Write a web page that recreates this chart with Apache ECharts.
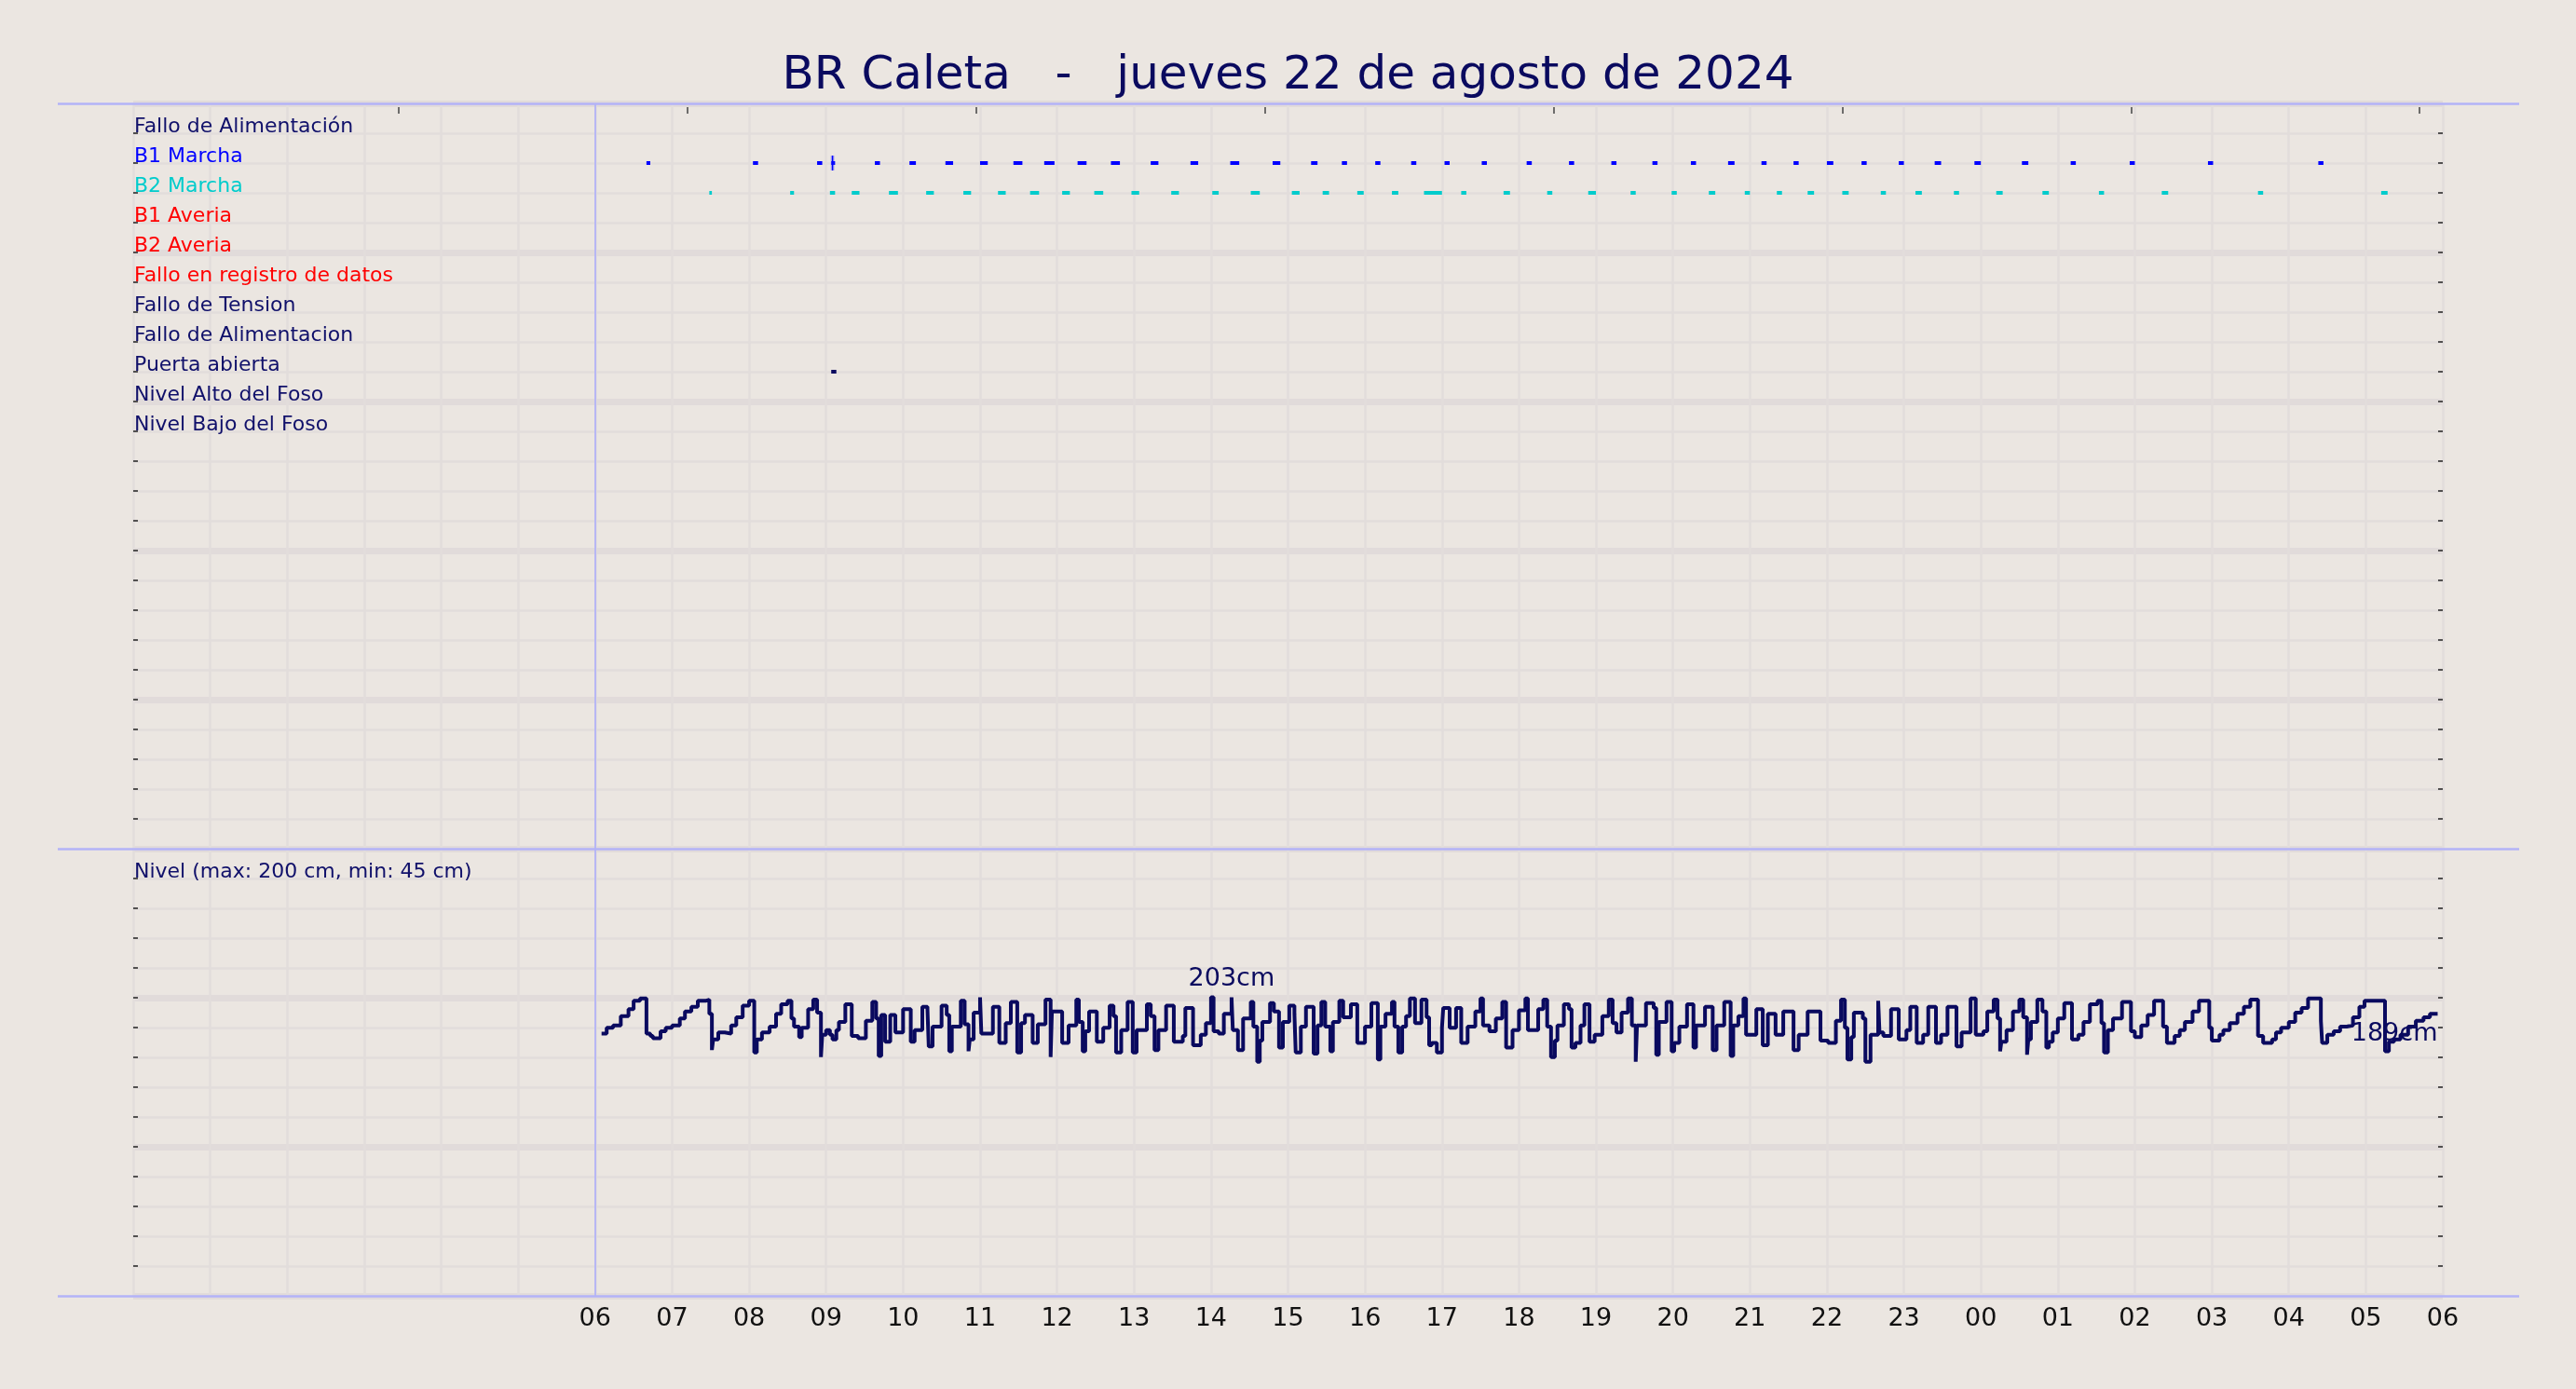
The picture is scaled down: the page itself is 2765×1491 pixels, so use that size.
<!DOCTYPE html>
<html><head><meta charset="utf-8">
<script src="https://cdn.jsdelivr.net/npm/echarts@6/dist/echarts.min.js"></script>
<style>html,body{margin:0;padding:0;background:#ebe6e1;}#c{width:2765px;height:1491px;}</style>
</head><body><div id="c"></div>
<script>
const titleText = 'BR Caleta   -   jueves 22 de agosto de 2024';

// row labels (row index on the 0..40 strip axis)
const labelRows = [1, 2, 3, 4, 5, 6, 7, 8, 9, 10, 11, 26];
const labelTexts = ['Fallo de Alimentación', 'B1 Marcha', 'B2 Marcha', 'B1 Averia', 'B2 Averia',
  'Fallo en registro de datos', 'Fallo de Tension', 'Fallo de Alimentacion', 'Puerta abierta',
  'Nivel Alto del Foso', 'Nivel Bajo del Foso', 'Nivel (max: 200 cm, min: 45 cm)'];
const labelColors = ['#10106a', '#0000ff', '#00cccc', '#ff0000', '#ff0000', '#ff0000',
  '#10106a', '#10106a', '#10106a', '#10106a', '#10106a', '#10106a'];
const tickRows = [1,2,3,4,5,6,7,8,9,10,11,12,13,14,15,16,17,18,19,20,21,22,23,24,
  26,27,28,29,30,31,32,33,34,35,36,37,38,39];

// x tick labels for hour values 6..30
const xTickLabels = ['06','07','08','09','10','11','12','13','14','15','16','17','18','19',
  '20','21','22','23','00','01','02','03','04','05','06'];
const topTicks = [3.45, 7.2, 10.95, 14.7, 18.45, 22.2, 25.95, 29.7];
const startHour = 6;

const b1Start = ['06:40','08:03','08:53','09:04','09:38','10:05','10:33','11:00','11:26','11:50','12:16','12:42','13:13','13:44','14:15','14:48','15:18','15:42','16:08','16:36','17:02','17:31','18:06','18:39','19:12','19:44','20:14','20:43','21:09','21:34','22:00','22:27','22:56','23:24','23:55','00:32','01:10','01:56','02:57','04:23'];
const b1End   = ['06:43','08:07','08:57','09:07','09:42','10:10','10:39','11:06','11:33','11:58','12:23','12:49','13:19','13:50','14:22','14:54','15:23','15:46','16:12','16:40','17:06','17:35','18:10','18:43','19:16','19:48','20:18','20:48','21:13','21:38','22:05','22:31','23:00','23:29','00:00','00:37','01:14','02:00','03:01','04:27'];
const b1Ticks = ['09:05'];

const b2Start = ['07:29','08:32','09:03','09:20','09:49','10:18','10:47','11:14','11:39','12:04','12:29','12:58','13:29','14:01','14:31','15:03','15:27','15:54','16:21','16:46','17:15','17:48','18:22','18:54','19:27','19:59','20:28','20:56','21:21','21:45','22:12','22:42','23:09','23:39','00:12','00:48','01:32','02:21','03:36','05:12'];
const b2End   = ['07:31','08:35','09:07','09:26','09:56','10:24','10:53','11:20','11:46','12:10','12:36','13:04','13:35','14:06','14:38','15:09','15:32','15:59','16:26','17:00','17:19','17:53','18:26','19:00','19:31','20:03','20:33','21:00','21:25','21:50','22:17','22:46','23:14','23:43','00:17','00:53','01:36','02:26','03:40','05:17'];

const puertaStart = ['09:04'];
const puertaEnd = ['09:08'];

const levelTimes = ['06:05','06:09','06:14','06:20','06:26','06:30','06:35','06:40','06:43','06:45','06:51','06:55','07:00','07:06','07:10','07:15','07:20','07:26','07:29','07:31','07:32','07:36','07:41','07:46','07:50','07:55','08:00','08:04','08:06','08:10','08:16','08:21','08:25','08:30','08:33','08:35','08:39','08:41','08:46','08:50','08:53','08:56','08:57','09:00','09:03','09:05','09:08','09:10','09:15','09:20','09:25','09:31','09:36','09:39','09:41','09:43','09:46','09:50','09:54','10:00','10:06','10:09','10:15','10:19','10:20','10:23','10:30','10:34','10:36','10:38','10:45','10:48','10:51','10:52','10:55','11:00','11:01','11:10','11:15','11:20','11:24','11:29','11:32','11:35','11:41','11:45','11:51','11:55','11:56',
'12:04','12:09','12:15','12:17','12:20','12:22','12:25','12:31','12:36','12:41','12:44','12:46','12:50','12:55','12:59','13:02','13:10','13:13','13:16','13:19','13:25','13:31','13:38','13:40','13:46','13:52','13:56','14:00','14:02','14:06','14:10','14:16','14:17','14:21','14:25','14:31','14:33','14:36','14:38','14:40','14:46','14:49','14:53','14:56','15:01','15:05','15:06','15:10','15:14','15:20','15:23','15:26','15:29','15:33','15:35','15:40','15:43','15:49','15:54','16:00','16:05','16:10','16:12','16:16','16:21','16:23','16:26','16:29','16:32','16:35','16:39','16:44','16:48','16:50','16:52','16:56','17:00','17:01','17:06','17:11','17:15','17:20','17:26','17:30','17:32','17:37','17:42','17:47','17:50',
'17:55','18:00','18:05','18:07','18:15','18:19','18:22','18:25','18:28','18:30','18:35','18:39','18:41','18:44','18:48','18:51','18:55','18:59','19:05','19:10','19:13','19:16','19:20','19:25','19:28','19:31','19:32','19:39','19:45','19:47','19:49','19:55','19:59','20:01','20:05','20:11','20:16','20:18','20:25','20:31','20:34','20:40','20:45','20:47','20:51','20:55','20:57','21:05','21:10','21:14','21:20','21:26','21:34','21:38','21:45','21:55','22:01','22:07','22:11','22:14','22:16','22:19','22:21','22:28','22:30','22:34','22:40','22:41','22:44','22:50','22:56','23:02','23:05','23:10','23:15','23:19','23:25','23:29','23:34','23:41','23:45','23:52',
'23:56','00:02','00:05','00:10','00:13','00:15','00:16','00:20','00:25','00:30','00:33','00:36','00:37','00:39','00:44','00:48','00:51','00:53','00:56','01:00','01:05','01:11','01:16','01:20','01:25','01:31','01:34','01:36','01:39','01:43','01:50','01:57','02:00','02:05','02:10','02:15','02:22','02:25','02:31','02:35','02:39','02:45','02:50','02:58','03:00','03:06','03:09','03:14','03:20','03:25','03:30','03:36','03:40','03:47','03:50','03:54','04:00','04:05','04:10','04:15','04:25','04:26','04:30','04:35','04:40','04:45','04:50','04:55','04:59','05:15','05:18','05:22','05:27','05:33','05:39','05:45','05:50','05:56'];
const levelValues = [172,177,179,187,193,200,202,172,170,168,174,177,179,185,191,195,200,201,189,158,167,173,172,179,186,196,200,156,167,173,178,189,197,200,185,178,169,177,193,201,190,152,171,175,171,167,175,182,197,170,168,183,199,185,153,188,165,188,173,193,165,175,195,193,161,178,196,188,157,178,200,180,157,167,190,203,172,195,164,181,199,156,181,188,164,180,201,152,191,
164,179,201,182,157,174,191,165,177,196,187,156,175,199,156,175,197,187,158,175,196,165,170,194,162,171,181,203,174,172,189,203,175,158,185,199,178,148,166,182,198,191,160,182,196,189,156,178,195,155,179,199,178,157,182,200,186,197,164,178,198,150,178,189,199,178,156,178,187,202,181,201,186,162,164,156,177,194,177,194,164,178,191,202,179,174,185,199,160,
175,192,202,175,193,201,178,152,166,179,197,193,160,164,179,197,165,171,187,201,181,173,190,202,179,148,179,198,194,154,182,199,157,164,178,197,160,179,195,158,179,199,153,179,187,202,171,193,162,189,171,191,158,171,191,166,164,183,201,177,150,169,190,185,148,171,200,173,170,193,167,175,195,164,171,195,164,171,195,161,173,202,
171,174,191,201,185,157,165,175,191,201,186,154,167,182,201,191,160,165,173,185,198,167,171,182,197,200,181,156,175,185,199,174,169,179,188,200,178,164,170,175,182,191,200,177,166,171,175,181,189,195,201,170,164,167,173,177,182,190,194,202,183,164,171,174,178,179,186,195,200,157,165,167,171,178,183,186,189,189];
const levelMaxTime = '14:16';

const navy = '#0a0a5f';
const font = 'DejaVu Sans';
const gridColor = '#e2dddb';
const thickColor = '#e1dbda';
const borderBlue = '#b3b3f7';

function toHour(s) {
  const p = s.split(':').map(Number);
  let v = p[0] + p[1] / 60;
  if (p[0] < startHour) v += 24;
  return v;
}
function pairs(a, b) { return a.map((s, i) => [toHour(s), toHour(b[i])]); }

const levelData = levelTimes.map((t, i) => [toHour(t), levelValues[i]]);
const maxIdx = levelTimes.indexOf(levelMaxTime);
const lastIdx = levelTimes.length - 1;

function barRender(row, color, h) {
  return function (params, api) {
    const s = api.coord([api.value(0), row]);
    const e = api.coord([api.value(1), row]);
    return { type: 'rect', shape: { x: s[0], y: s[1] - h / 2, width: Math.max(e[0] - s[0], 2), height: h },
      style: { fill: color } };
  };
}

const chart = echarts.init(document.getElementById('c'), null, { renderer: 'canvas' });
const option = {
  backgroundColor: '#ebe6e1',
  animation: false,
  title: { text: titleText, left: 'center', top: 52,
    textStyle: { fontSize: 50, fontWeight: 'normal', color: navy, fontFamily: font } },
  grid: [
    { left: 143, right: 143, top: 111, bottom: 100 },
    { left: 62, right: 61, top: 111, bottom: 100 },
    { left: 143, right: 143, top: 911, bottom: 100 }
  ],
  xAxis: [
    { gridIndex: 0, type: 'value', min: 0, max: 30, interval: 1, position: 'bottom',
      axisLine: { show: false }, axisTick: { show: false },
      axisLabel: { fontSize: 27, color: '#111', margin: 11, fontFamily: font,
        formatter: v => { const k = Math.round(v) - startHour; return k >= 0 ? xTickLabels[k] : ''; } },
      splitLine: { show: true, lineStyle: { color: gridColor, width: 2.5 } } },
    { gridIndex: 0, type: 'value', min: 0, max: 30, position: 'top', offset: -4,
      axisLine: { show: false }, axisLabel: { show: false }, splitLine: { show: false },
      axisTick: { show: true, inside: true, length: 7, customValues: topTicks,
        lineStyle: { color: '#444', width: 1.5 } } },
    { gridIndex: 1, type: 'value', min: 0, max: 1, show: false },
    { gridIndex: 2, type: 'value', min: 0, max: 30, show: false }
  ],
  yAxis: [
    { gridIndex: 0, type: 'value', min: 0, max: 40, interval: 1, inverse: true, position: 'left',
      axisLine: { show: false },
      axisTick: { show: true, inside: true, length: 5, customValues: tickRows,
        lineStyle: { color: '#222', width: 1.5 } },
      axisLabel: { inside: true, margin: 1, fontSize: 22, fontFamily: font, lineHeight: 13,
        verticalAlign: 'bottom', customValues: labelRows, showMinLabel: true, showMaxLabel: true,
        formatter: v => { const k = labelRows.indexOf(Math.round(v)); return k >= 0 ? labelTexts[k] : ''; },
        color: v => { const k = labelRows.indexOf(Math.round(Number(v))); return k >= 0 ? labelColors[k] : navy; } },
      splitLine: { show: true, lineStyle: { color: gridColor, width: 2.5 } } },
    { gridIndex: 0, type: 'value', min: 0, max: 40, interval: 5, inverse: true, position: 'left',
      axisLine: { show: false }, axisTick: { show: false }, axisLabel: { show: false },
      splitLine: { show: true, lineStyle: { color: thickColor, width: 7 } } },
    { gridIndex: 0, type: 'value', min: 0, max: 40, interval: 1, inverse: true, position: 'right',
      axisLine: { show: false }, axisLabel: { show: false }, splitLine: { show: false },
      axisTick: { show: true, inside: true, length: 5, customValues: tickRows,
        lineStyle: { color: '#222', width: 1.5 } } },
    { gridIndex: 1, type: 'value', min: 0, max: 40, inverse: true, show: false },
    { gridIndex: 2, type: 'value', min: -52, max: 330, show: false }
  ],
  series: [
    { type: 'line', xAxisIndex: 2, yAxisIndex: 3, data: [[0, 0]], symbol: 'none', silent: true,
      lineStyle: { opacity: 0 },
      markLine: { silent: true, symbol: ['none', 'none'], label: { show: false },
        lineStyle: { color: borderBlue, width: 2.5, type: 'solid' },
        data: [{ yAxis: 0 }, { yAxis: 25 }, { yAxis: 40 }] } },
    { type: 'line', xAxisIndex: 0, yAxisIndex: 0, data: [[startHour, 0]], symbol: 'none', silent: true,
      lineStyle: { opacity: 0 },
      markLine: { silent: true, symbol: ['none', 'none'], label: { show: false },
        lineStyle: { color: borderBlue, width: 1.8, type: 'solid' },
        data: [{ xAxis: startHour }] } },
    { type: 'custom', name: 'B1 Marcha', xAxisIndex: 0, yAxisIndex: 0, z: 5,
      renderItem: barRender(2, '#0000ff', 4), data: pairs(b1Start, b1End) },
    { type: 'custom', name: 'B1 tick', xAxisIndex: 0, yAxisIndex: 0, z: 6,
      renderItem: function (params, api) {
        const p = api.coord([api.value(0), 2]);
        return { type: 'group', children: [
          { type: 'rect', shape: { x: p[0] - 2, y: p[1] - 8, width: 4, height: 16 }, style: { fill: 'rgba(60,60,255,0.3)' } },
          { type: 'line', shape: { x1: p[0], y1: p[1] - 8, x2: p[0], y2: p[1] + 8 }, style: { stroke: '#0000ff', lineWidth: 1.5 } }
        ] };
      },
      data: b1Ticks.map(t => [toHour(t)]) },
    { type: 'custom', name: 'B2 Marcha', xAxisIndex: 0, yAxisIndex: 0, z: 5,
      renderItem: barRender(3, '#00cccc', 4), data: pairs(b2Start, b2End) },
    { type: 'custom', name: 'Puerta abierta', xAxisIndex: 0, yAxisIndex: 0, z: 5,
      renderItem: barRender(9, navy, 4), data: pairs(puertaStart, puertaEnd) },
    { type: 'line', name: 'Nivel', xAxisIndex: 3, yAxisIndex: 4, step: 'end', symbol: 'none',
      showSymbol: false, z: 5, lineStyle: { color: navy, width: 4 }, data: levelData },
    { type: 'scatter', xAxisIndex: 3, yAxisIndex: 4, symbolSize: 0.1, z: 7,
      itemStyle: { color: navy },
      data: [
        { value: levelData[maxIdx], label: { show: true, position: 'top', distance: 6, opacity: 1,
          textBorderWidth: 0, formatter: p => p.value[1] + 'cm', fontSize: 27, color: navy, fontFamily: font } },
        { value: levelData[lastIdx], label: { show: true, position: 'left', distance: 0, offset: [0, 22], opacity: 1,
          textBorderWidth: 0, formatter: p => p.value[1] + 'cm', fontSize: 27, color: navy, fontFamily: font } }
      ] }
  ]
};
chart.setOption(option);
</script></body></html>
